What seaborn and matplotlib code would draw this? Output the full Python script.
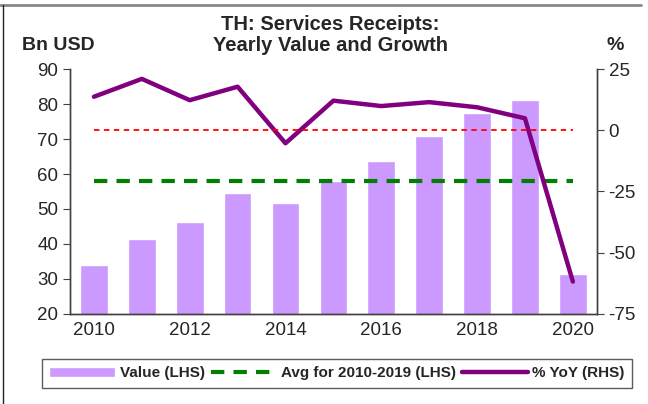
import numpy as np
import pandas as pd
import matplotlib
matplotlib.use("Agg")
import matplotlib.pyplot as plt
import seaborn as sns
from matplotlib.lines import Line2D

years = [2010, 2011, 2012, 2013, 2014, 2015, 2016, 2017, 2018, 2019, 2020]
value_bn = [34.0, 41.4, 46.4, 54.7, 51.8, 58.0, 63.7, 71.0, 77.4, 81.2, 31.4]
yoy_pct = [13.7, 21.0, 12.3, 17.8, -5.3, 12.1, 9.9, 11.5, 9.4, 4.9, -61.8]

df = pd.DataFrame({"year": [str(y) for y in years], "value": value_bn, "yoy": yoy_pct})
avg = np.mean(value_bn[:10])

sns.set_style("white")
plt.rcParams["font.family"] = ["Liberation Sans", "DejaVu Sans"]
plt.rcParams["axes.unicode_minus"] = False

fig = plt.figure(figsize=(6.48, 4.04), dpi=100)
ax = fig.add_axes([0.108, 0.223, 0.813, 0.606])

sns.barplot(data=df, x="year", y="value", color="#CC99FF", saturation=1,
            width=0.58, ax=ax, label="Value (LHS)")
ax.hlines(avg, 0, len(years) - 1, colors="#008000", linestyles=(0, (3.2, 2.2)),
          linewidth=3, label="Avg for 2010-2019 (LHS)", zorder=3)
ax.set_ylim(20, 90)
ax.set_xlim(-0.5, len(years) - 0.5)
ax.set_yticks(range(20, 91, 10))
ax.set_xlabel("")
ax.set_ylabel("")

# labels every other year, ticks on category edges
ax.set_xticks(range(0, len(years), 2))
ax.set_xticklabels([str(y) for y in years[::2]])
ax.tick_params(axis="x", which="major", length=0, pad=6, labelsize=13.5)
ax.set_xticks(np.arange(-0.5, len(years), 1), minor=True)
ax.tick_params(axis="x", which="minor", length=5, color="#404040", direction="out")
ax.tick_params(axis="y", length=5, color="#404040", direction="out", labelsize=13.5, left=True)

ax2 = ax.twinx()
sns.lineplot(x=np.arange(len(years)), y=yoy_pct, color="#800080", linewidth=3.2,
             ax=ax2, label="% YoY (RHS)")
ax2.hlines(0, 0, len(years) - 1, colors="#FF0000", linestyles=(0, (3, 2.5)), linewidth=1.3)
ax2.set_ylim(-75, 25)
ax2.set_yticks(range(-75, 26, 25))
ax2.tick_params(axis="y", length=5, color="#404040", direction="out", labelsize=13.5, right=True)
ax2.set_xlim(-0.5, len(years) - 0.5)

for a in (ax, ax2):
    a.spines["top"].set_visible(False)
    for s in ("left", "right", "bottom"):
        a.spines[s].set_color("#404040")
        a.spines[s].set_linewidth(1)
    a.grid(False)

h1, l1 = ax.get_legend_handles_labels()
h2, l2 = ax2.get_legend_handles_labels()
ax2.get_legend().remove()
if ax.get_legend() is not None:
    ax.get_legend().remove()
handles = dict(zip(l1 + l2, h1 + h2))
order = ["Value (LHS)", "Avg for 2010-2019 (LHS)", "% YoY (RHS)"]
leg = fig.legend([handles[k] for k in order], order, loc="center",
                 bbox_to_anchor=(0.52, 0.076), ncol=3, frameon=True, fancybox=False,
                 prop={"weight": "bold", "size": 11}, handlelength=4.3,
                 columnspacing=0.4, handletextpad=0.3, borderpad=0.5, borderaxespad=0)
leg.get_frame().set_edgecolor("#333333")
leg.get_frame().set_linewidth(1)

fig.text(0.51, 0.913, "TH: Services Receipts:\nYearly Value and Growth", ha="center",
         va="center", fontsize=14.5, fontweight="bold", linespacing=1.1)
fig.text(0.034, 0.888, "Bn USD", fontsize=14, fontweight="bold", va="center")
fig.text(0.936, 0.888, "%", fontsize=14, fontweight="bold", va="center")

# chart frame: grey top edge, black left edge
fig.lines.append(Line2D([0, 641 / 648], [1 - 5 / 404, 1 - 5 / 404], transform=fig.transFigure,
                        color="#888888", linewidth=2))
fig.lines.append(Line2D([3 / 648, 3 / 648], [0, 1 - 5 / 404], transform=fig.transFigure,
                        color="#222222", linewidth=1))

fig.savefig("out.png", dpi=100)
